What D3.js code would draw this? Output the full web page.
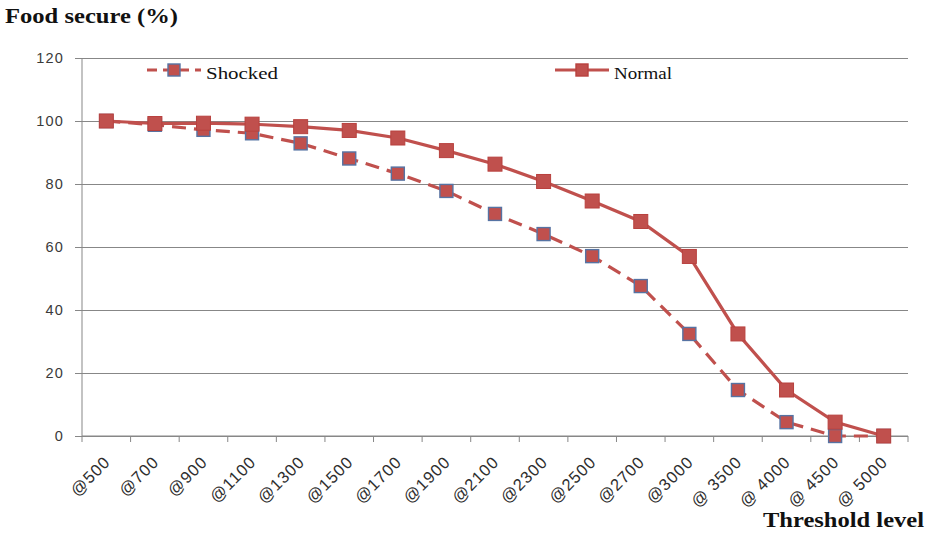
<!DOCTYPE html>
<html>
<head>
<meta charset="utf-8">
<script src="https://cdn.jsdelivr.net/npm/d3@7"></script>
<style>
  body { margin: 0; background: #fff; }
  svg { display: block; }
</style>
</head>
<body>
<svg id="chart" width="927" height="535"></svg>
<script>
// Threshold levels on the x axis
const categories = ["@500", "@700", "@900", "@1100", "@1300", "@1500", "@1700", "@1900",
  "@2100", "@2300", "@2500", "@2700", "@3000", "@ 3500", "@ 4000", "@ 4500", "@ 5000"];
// Share of households food secure (%)
const normalValues = [100, 99.2, 99.3, 99, 98.2, 97, 94.6, 90.6, 86.3, 80.8, 74.6, 68.1, 57, 32.4, 14.6, 4.4, 0];
const shockedValues = [100, 98.8, 97.2, 96.1, 92.9, 88.1, 83.3, 77.8, 70.5, 64.1, 57.1, 47.6, 32.4, 14.6, 4.4, 0, 0];
const yTicks = [0, 20, 40, 60, 80, 100, 120];

const svg = d3.select("#chart");
const m = { left: 82, right: 908, top: 58, bottom: 436 };
const red = "#C0504D";
const blueEdge = "#5673A3";
const grid = "#878787";
const sans = "'Liberation Sans', Arial, sans-serif";
const serif = "'Liberation Serif', 'Times New Roman', serif";

const x = d3.scaleBand().domain(categories).range([m.left, m.right]);
const y = d3.scaleLinear().domain([0, 120]).range([m.bottom, m.top]);

// Horizontal gridlines with y tick labels
const yAxis = d3.axisLeft(y).tickValues(yTicks).tickSize(-(m.right - m.left)).tickPadding(18);
const gy = svg.append("g").attr("transform", `translate(${m.left},0)`).call(yAxis);
gy.select(".domain").remove();
gy.selectAll(".tick line").attr("stroke", grid).attr("x1", -7);
gy.selectAll(".tick text")
  .attr("fill", "#3a3a3a")
  .style("font-family", sans)
  .style("font-size", "14.5px")
  .style("letter-spacing", "1.2px");

// Vertical axis line
svg.append("line")
  .attr("x1", m.left).attr("x2", m.left)
  .attr("y1", m.top).attr("y2", m.bottom)
  .attr("stroke", grid);

// Category axis: ticks at band boundaries, labels rotated
const gx = svg.append("g").attr("transform", `translate(0,${m.bottom})`);
gx.append("line").attr("x1", m.left).attr("x2", m.right).attr("stroke", grid);
const bounds = categories.map(c => x(c)).concat([m.right]);
gx.selectAll("line.tk").data(bounds).join("line")
  .attr("class", "tk")
  .attr("x1", d => d).attr("x2", d => d)
  .attr("y1", 0).attr("y2", 6)
  .attr("stroke", grid);
gx.selectAll("text").data(categories).join("text")
  .attr("transform", d => `translate(${x(d) + x.bandwidth() / 2 + 5},${27}) rotate(-45)`)
  .attr("text-anchor", "end")
  .attr("fill", "#2e2e2e")
  .style("font-family", sans)
  .style("font-size", "16.5px")
  .style("letter-spacing", "1px")
  .text(d => d);

const cx = d => x(d) + x.bandwidth() / 2;
const line = d3.line().x(d => cx(d.c)).y(d => y(d.v));

const normal = categories.map((c, i) => ({ c, v: normalValues[i] }));
const shocked = categories.map((c, i) => ({ c, v: shockedValues[i] }));

// Shocked series: dashed line, markers with bluish edge
svg.append("path").datum(shocked)
  .attr("d", line).attr("fill", "none")
  .attr("stroke", red).attr("stroke-width", 3.2)
  .attr("stroke-dasharray", "14,8");
svg.selectAll("rect.sh").data(shocked).join("rect")
  .attr("class", "sh")
  .attr("x", d => cx(d.c) - 6.5).attr("y", d => y(d.v) - 6.5)
  .attr("width", 13).attr("height", 13)
  .attr("fill", red).attr("stroke", blueEdge).attr("stroke-width", 1.4);

// Normal series: solid line and markers
svg.append("path").datum(normal)
  .attr("d", line).attr("fill", "none")
  .attr("stroke", red).attr("stroke-width", 3.2);
svg.selectAll("rect.nm").data(normal).join("rect")
  .attr("class", "nm")
  .attr("x", d => cx(d.c) - 7).attr("y", d => y(d.v) - 7)
  .attr("width", 14).attr("height", 14)
  .attr("fill", red).attr("stroke", "#b8413e").attr("stroke-width", 1);

// Legend
const legend = [
  { name: "Shocked", x0: 147, w: 72, dash: "10,6", edge: blueEdge },
  { name: "Normal", x0: 555, w: 58, dash: null, edge: "#b8413e" }
];
const ly = 70;
legend.forEach(l => {
  svg.append("line")
    .attr("x1", l.x0).attr("x2", l.x0 + 54)
    .attr("y1", ly).attr("y2", ly)
    .attr("stroke", red).attr("stroke-width", 3.2)
    .attr("stroke-dasharray", l.dash);
  svg.append("rect")
    .attr("x", l.x0 + 21).attr("y", ly - 6)
    .attr("width", 12).attr("height", 12)
    .attr("fill", red).attr("stroke", l.edge).attr("stroke-width", 1.4);
  svg.append("text")
    .attr("x", l.x0 + 59).attr("y", ly + 9)
    .attr("fill", "#111")
    .attr("textLength", l.w)
    .attr("lengthAdjust", "spacingAndGlyphs")
    .style("font-family", serif)
    .style("font-size", "16px")
    .text(l.name);
});

// Axis titles
svg.append("text")
  .attr("x", 5).attr("y", 23)
  .attr("fill", "#111")
  .attr("textLength", 173)
  .attr("lengthAdjust", "spacingAndGlyphs")
  .style("font-family", serif)
  .style("font-weight", "bold")
  .style("font-size", "21px")
  .text("Food secure (%)");
svg.append("text")
  .attr("x", 763).attr("y", 527)
  .attr("fill", "#111")
  .attr("textLength", 161)
  .attr("lengthAdjust", "spacingAndGlyphs")
  .style("font-family", serif)
  .style("font-weight", "bold")
  .style("font-size", "21px")
  .text("Threshold level");
</script>
</body>
</html>
